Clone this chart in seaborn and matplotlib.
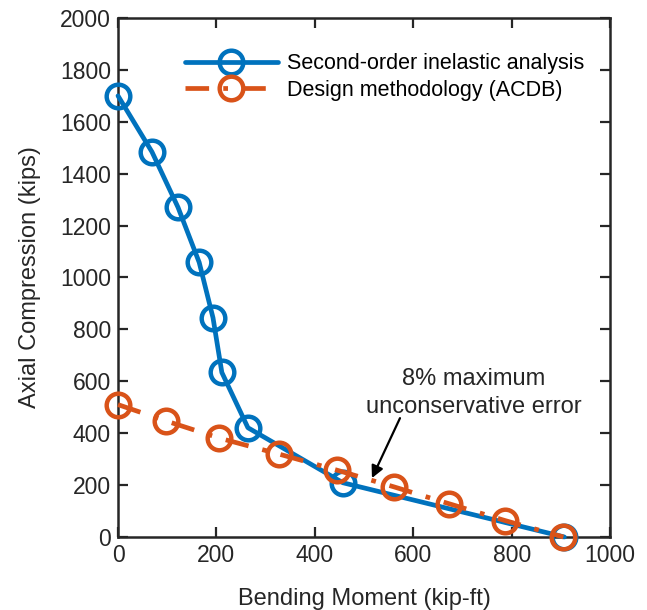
import matplotlib
matplotlib.use("Agg")
import matplotlib.pyplot as plt
import seaborn as sns
import pandas as pd

sns.set_theme(style="ticks")
plt.rcParams['font.family'] = ['Liberation Sans', 'DejaVu Sans']

# Data
inelastic_moment = [0, 69, 122, 165, 193, 211, 264, 457, 907]
inelastic_axial = [1700, 1484, 1270, 1058, 845, 634, 421, 209, 0]
design_moment = [0, 98, 206, 328, 444, 561, 673, 787, 905]
design_axial = [510, 447, 381, 319, 258, 193, 128, 63, 0]
labels = ["Second-order inelastic analysis", "Design methodology (ACDB)"]

blue = "#0072BD"
orange = "#D95319"
ink = "#262626"

df1 = pd.DataFrame({"x": inelastic_moment, "y": inelastic_axial})
df2 = pd.DataFrame({"x": design_moment, "y": design_axial})

fig = plt.figure(figsize=(6.47, 6.10), dpi=100)
ax = fig.add_axes([0.1824, 0.1197, 0.7606, 0.8508])

sns.lineplot(data=df1, x="x", y="y", ax=ax, color=blue, lw=3.4, marker="o",
             markersize=17, markerfacecolor="none", markeredgecolor=blue,
             markeredgewidth=3.2, label=labels[0], sort=False, zorder=3, clip_on=False)
sns.lineplot(data=df2, x="x", y="y", ax=ax, color=orange, lw=3.4, marker="o",
             markersize=17, markerfacecolor="none", markeredgecolor=orange,
             markeredgewidth=3.2, label=labels[1], sort=False, zorder=4, clip_on=False)
ax.lines[-1].set_linestyle((0, (5, 3, 1, 3)))

ax.set_xlim(0, 1000)
ax.set_ylim(0, 2000)
ax.set_xticks(range(0, 1001, 200))
ax.set_yticks(range(0, 2001, 200))
ax.tick_params(direction="in", top=True, right=True, length=7, width=1.6,
               labelsize=16.5, colors=ink, labelcolor=ink, pad=5)
for s in ax.spines.values():
    s.set_linewidth(1.8)
    s.set_color(ink)

ax.set_xlabel("Bending Moment (kip-ft)", fontsize=17, color=ink, labelpad=15)
ax.set_ylabel("Axial Compression (kips)", fontsize=17, color=ink, labelpad=14)

leg = ax.legend(loc="upper left", frameon=False, fontsize=15.5,
                handlelength=4.3, bbox_to_anchor=(0.136, 0.932), labelspacing=0.25,
                handletextpad=0.45, borderaxespad=0, borderpad=0)
for t in leg.get_texts():
    t.set_color("black")

ax.text(722, 555, "8% maximum\nunconservative error", ha="center", va="center",
        fontsize=17, color=ink, linespacing=1.3)
ax.annotate("", xy=(516, 227), xytext=(573, 458),
            arrowprops=dict(arrowstyle="-|>", color="black", lw=1.6,
                            mutation_scale=18, shrinkA=0, shrinkB=0))

fig.savefig("out.png", dpi=100)
